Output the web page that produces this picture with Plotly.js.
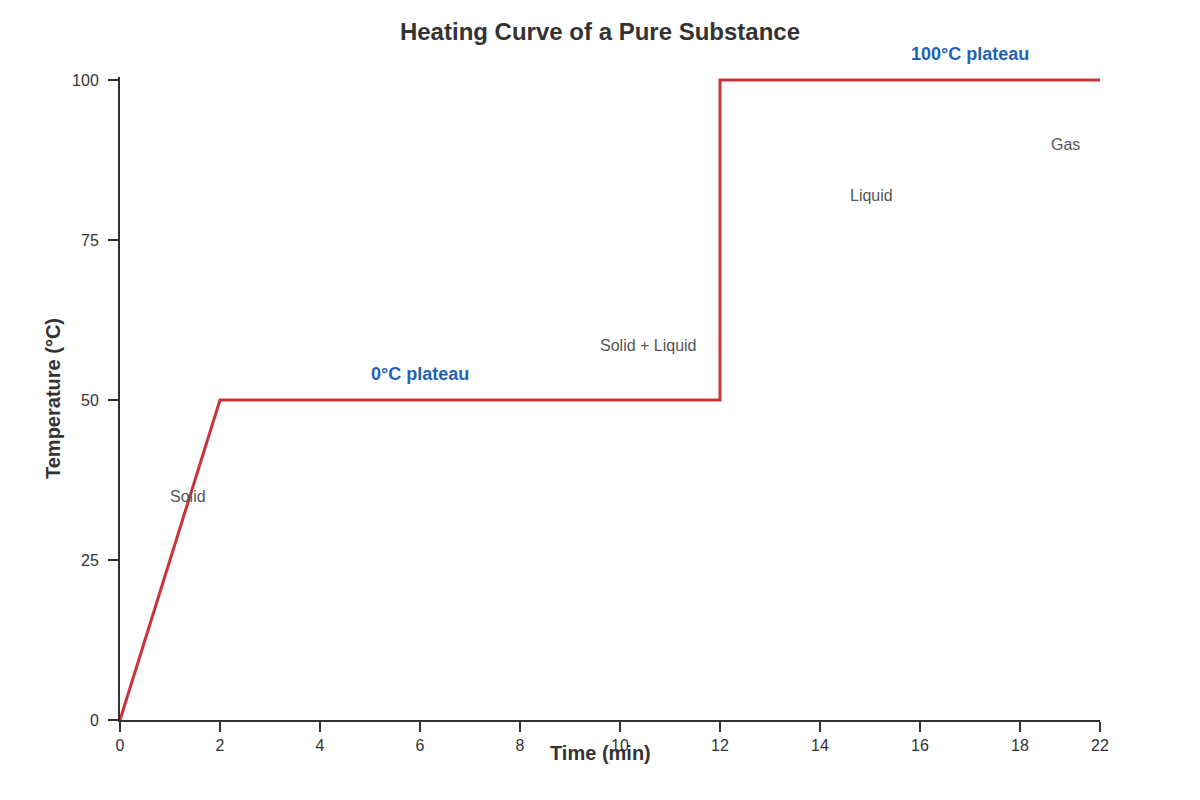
<!DOCTYPE html>
<html>
<head>
<meta charset="utf-8">
<script src="https://cdn.plot.ly/plotly-3.0.1.min.js"></script>
<style>
  html, body { margin: 0; padding: 0; background: #fff; }
  #chart { width: 1200px; height: 800px; }
</style>
</head>
<body>
<div id="chart"></div>
<script>
// heating curve points
const timeMin = [0, 2, 12, 12, 22];
const tempC = [0, 50, 50, 100, 100];

// x ticks as the reference shows them (the last tick is labelled 22 at the right edge)
const xTickVals = [0, 2, 4, 6, 8, 10, 12, 14, 16, 18, 19.6];
const xTickText = ['0', '2', '4', '6', '8', '10', '12', '14', '16', '18', '22'];

// phase labels
const phaseText = ['Solid', 'Solid + Liquid', 'Liquid', 'Gas'];
const phaseX = [1.36, 10.56, 15.02, 18.9];
const phaseY = [35, 58.5, 82, 90];

// plateau labels
const plateauText = ['0°C plateau', '100°C plateau'];
const plateauX = [6.0, 17.0];
const plateauY = [54, 104];

const fontFam = '"Liberation Sans", Arial, sans-serif';
const yTop = 100.47;

const annotations = [];
phaseText.forEach((t, i) => {
  annotations.push({
    x: phaseX[i], y: phaseY[i], text: t, showarrow: false,
    font: { family: fontFam, size: 16, color: '#555' }
  });
});
plateauText.forEach((t, i) => {
  const a = {
    x: plateauX[i], y: plateauY[i], text: '<b>' + t + '</b>', showarrow: false,
    yanchor: 'middle',
    font: { family: fontFam, size: 18, color: '#1f63b5' }
  };
  // labels above the axis range would be hidden, so pin them to the top edge
  if (plateauY[i] > yTop) {
    a.yref = 'paper';
    a.y = 1;
    a.yshift = (plateauY[i] - yTop) * 6.4;
  }
  annotations.push(a);
});
// x axis title sits over the tick labels in the reference
annotations.push({
  xref: 'paper', yref: 'paper', x: 0.490, y: 0, yshift: -46,
  text: '<b>Time (min)</b>', showarrow: false,
  font: { family: fontFam, size: 20, color: '#333' }
});

Plotly.newPlot('chart', [{
  x: timeMin, y: tempC, type: 'scatter', mode: 'lines',
  line: { color: '#c9343a', width: 3 },
  hoverinfo: 'x+y'
}], {
  width: 1200, height: 800,
  margin: { l: 120, r: 100, t: 77, b: 80 },
  paper_bgcolor: '#fff', plot_bgcolor: '#fff',
  showlegend: false,
  font: { family: fontFam, color: '#333' },
  title: {
    text: '<b>Heating Curve of a Pure Substance</b>',
    x: 0.5, xanchor: 'center', y: 0.96, yanchor: 'middle',
    font: { family: fontFam, size: 24, color: '#333' }
  },
  xaxis: {
    range: [0, 19.6],
    tickmode: 'array', tickvals: xTickVals, ticktext: xTickText,
    showgrid: false, zeroline: false,
    showline: true, linecolor: '#333', linewidth: 2,
    ticks: 'outside', ticklen: 10, tickwidth: 2, tickcolor: '#333',
    tickfont: { size: 16, color: '#333' }
  },
  yaxis: {
    range: [0, yTop], dtick: 25, tick0: 0,
    showgrid: false, zeroline: false,
    showline: true, linecolor: '#333', linewidth: 2,
    ticks: 'outside', ticklen: 10, tickwidth: 2, tickcolor: '#333',
    ticklabelstandoff: 6,
    tickfont: { size: 16, color: '#333' },
    title: { text: '<b>Temperature (°C)</b>', standoff: 6,
      font: { family: fontFam, size: 20, color: '#333' } }
  },
  annotations: annotations
}, { displayModeBar: false, staticPlot: true });
</script>
</body>
</html>
